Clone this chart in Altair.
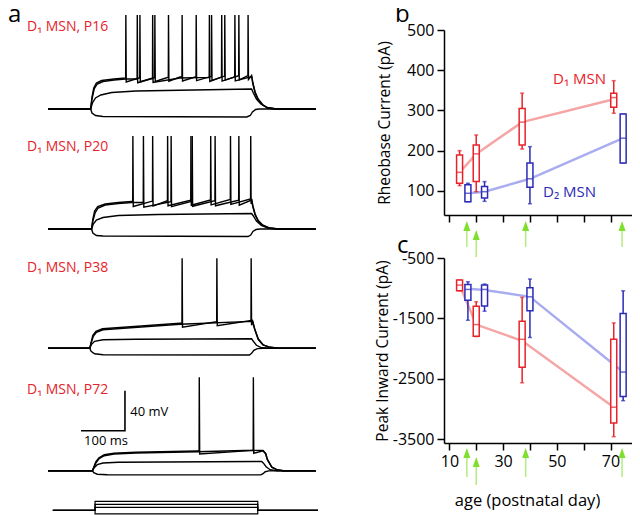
import altair as alt
import numpy as np
import pandas as pd

FONT = "Open Sans"
RED = "#e8222a"
BLUE = "#2b2bb8"
RED_FADE = "#f6a5a5"
BLUE_FADE = "#a9adf0"
GREEN = "#7ee02c"

# ---------------- panel a : traces (time ms, membrane potential mV) ----------------
TRACE_LABELS = ["D₁ MSN, P16", "D₁ MSN, P20", "D₁ MSN, P38", "D₁ MSN, P72"]

P16_HYPER = [(0, -80), (97, -80), (100, -84), (108, -86.5), (125, -87.5), (452, -88), (460, -86.5), (465, -83), (472, -80.5), (480, -80), (609, -80)]
P16_SUB = [(0, -80), (97, -80), (101, -74), (108, -69), (120, -66), (145, -63.5), (200, -62), (463, -60), (467, -64), (474, -70), (484, -75), (498, -78.5), (520, -80), (609, -80)]
P16_SPK_A = [(0, -80), (97, -80), (100, -70), (105, -60), (112, -55), (125, -52.5), (150, -51), (176, -50), (300, -49), (463, -47.5), (466, -55), (471, -64), (478, -71), (488, -76), (500, -79), (520, -80), (609, -80)]
P16_SPK_B = [(0, -80), (97, -80), (100, -68), (104, -59), (110, -54), (122, -51.5), (150, -50), (176, -49), (300, -48), (463, -46.5), (466, -54), (471, -63), (478, -70), (488, -75.5), (500, -79), (520, -80), (609, -80)]
P16_SPIKES_A = [203, 238, 367, 395, 425]
P16_SPIKES_B = [177, 209, 243, 274, 305, 337, 372, 402, 434, 455]

P20_HYPER = [(0, -80), (99, -80), (102, -84), (110, -86.5), (125, -87), (455, -87.5), (461, -86), (466, -82.5), (473, -80.5), (482, -80), (609, -80)]
P20_SUB = [(0, -80), (99, -80), (103, -75), (110, -71), (125, -68.5), (160, -66.5), (250, -65.5), (463, -64.5), (467, -67), (474, -72), (485, -76.5), (500, -79), (520, -80), (609, -80)]
P20_SPK_A = [(0, -80), (99, -80), (102, -72), (107, -64), (114, -59), (130, -56), (160, -54.5), (190, -53.5), (463, -51), (466, -58), (471, -66), (478, -72), (488, -76.5), (503, -79), (525, -80), (609, -80)]
P20_SPK_B = [(0, -80), (99, -80), (102, -70), (106, -62), (113, -57.5), (130, -55), (160, -53.5), (190, -52.5), (463, -50), (466, -57), (471, -65), (478, -71.5), (488, -76), (503, -79), (525, -80), (609, -80)]
P20_SPIKES_A = [217, 280, 328, 380, 434]
P20_SPIKES_B = [193, 238, 272, 325, 370, 415, 461]

P38_HYPER = [(0, -80), (95, -80), (98, -83), (106, -85.5), (125, -86.5), (458, -86.7), (463, -85), (468, -82), (476, -80.3), (490, -80), (609, -80)]
P38_SUB = [(0, -80), (95, -80), (99, -76), (106, -73), (125, -71.5), (200, -71), (463, -70.5), (467, -73), (474, -77), (486, -79.5), (505, -80), (609, -80)]
P38_SPK_A = [(0, -80), (95, -80), (98, -75), (103, -68), (110, -64), (125, -61.5), (156, -60.5), (300, -56), (465, -53), (470, -61), (478, -71), (489, -76.7), (505, -79), (525, -80), (609, -80)]
P38_SPK_B = [(0, -80), (95, -80), (98, -74), (102, -67), (109, -63), (124, -60.5), (156, -59.5), (300, -55), (465, -52), (470, -60.5), (478, -70.5), (489, -76.5), (505, -79), (525, -80), (609, -80)]
P38_SPIKES_A = [462]
P38_SPIKES_B = [305, 384]

P72_HYPER = [(0, -80), (101, -80), (104, -82), (112, -83.5), (135, -84), (484, -84.2), (489, -83), (494, -81), (502, -80.2), (515, -80), (609, -80)]
P72_SUB = [(0, -80), (101, -80), (105, -77), (112, -74), (125, -72.3), (160, -71.5), (486, -70.8), (490, -72.5), (496, -76), (505, -79), (520, -80), (609, -80)]
P72_SPK_A = [(0, -80), (101, -80), (104, -77), (109, -72), (116, -68), (128, -65), (150, -63.3), (200, -62.3), (340, -61), (466, -59.5), (489, -60), (495, -63), (499, -69), (509, -76.5), (520, -79), (535, -80), (609, -80)]
P72_SPK_B = [(0, -80), (101, -80), (104, -76.5), (109, -71), (116, -67), (128, -64), (150, -62.5), (200, -61.5), (340, -60.3), (466, -59.7), (489, -59.8), (495, -63), (499, -69), (509, -76.5), (520, -79), (535, -80), (609, -80)]
P72_SPIKES_A = [467]
P72_SPIKES_B = [344]

SPIKE_PEAKS = [14, 13, 10, 13.4]
AHP_DEPTH = [4, 5, 4, 3]

SCALEBAR_T = [75, 175, 175]
SCALEBAR_V = [-40, -40, 0]
SCALEBAR_TEXT = ["100 ms", "40 mV"]
SCALEBAR_TEXT_T = [82, 187]
SCALEBAR_TEXT_V = [-50.5, -21]

STIM_AMPS = [-120, 100, 200, 300]
STIM_TIMES = [11, 107, 477, 614]

# ---------------- panels b, c : box plots ----------------
D1_DAYS = [13.8, 20.0, 37.1, 71.2]
D2_DAYS = [16.9, 23.1, 40.0, 74.7]

RB_D1_LO = [113, 98, 204, 293]
RB_D1_Q1 = [119, 123, 214, 308]
RB_D1_MED = [146, 192, 271, 332]
RB_D1_Q3 = [189, 214, 305, 343]
RB_D1_HI = [200, 239, 343, 374]
RB_D1_LINE = [146, 192, 271, 328]

RB_D2_LO = [73, 74, 68, 169]
RB_D2_Q1 = [73, 82, 109, 169]
RB_D2_MED = [94, 98, 130, 231]
RB_D2_Q3 = [115, 111, 169, 291]
RB_D2_HI = [119, 123, 210, 291]
RB_D2_LINE = [94, 98, 130, 231]

PI_D1_LO = [-1043, -1800, -2564, -3455]
PI_D1_Q1 = [-1043, -1795, -2305, -3228]
PI_D1_MED = [-948, -1601, -1845, -2968]
PI_D1_Q3 = [-865, -1297, -1546, -1845]
PI_D1_HI = [-865, -1225, -1152, -1574]
PI_D1_LINE = [-948, -1601, -1870, -2968]

PI_D2_LO = [-1530, -1380, -1815, -2860]
PI_D2_Q1 = [-1197, -1292, -1374, -2791]
PI_D2_MED = [-1020, -1020, -1142, -2387]
PI_D2_Q3 = [-937, -948, -992, -1418]
PI_D2_HI = [-893, -931, -848, -1043]
PI_D2_LINE = [-1010, -1030, -1142, -2387]

ARROW_DAYS = [16.5, 38.4, 74.3]
ARROW_DAYS_LOW = [20.0]

LEGEND_TEXT = ["D₁ MSN", "D₂ MSN"]
LEGEND_DAY = [48.6, 44.9]
LEGEND_VAL = [378, 97]

RB_TICKS = [100, 200, 300, 400, 500]
PI_TICKS = [-3500, -2500, -1500, -500]
AGE_TICKS = [10, 20, 30, 40, 50, 60, 70]


# ---------------- helpers ----------------
def build_trace(sweeps, peak, ahp):
    rows = []
    for name, env, spikes in sweeps:
        pts = [tuple(p) for p in env]
        te = [p[0] for p in env]
        ve = [p[1] for p in env]
        for ts in spikes:
            vp = float(np.interp(ts, te, ve))
            pts += [(ts - 0.4, vp), (ts, peak), (ts + 0.9, vp - ahp)]
        pts.sort(key=lambda p: p[0])
        for i, (t, v) in enumerate(pts):
            rows.append({"sweep": name, "i": i, "t": t, "v": v})
    return pd.DataFrame(rows)


T_SCALE = alt.Scale(domain=[-91, 614], nice=False, zero=False, padding=0)
LEFT_W, LEFT_H = 310, 484
X_T = alt.X("t:Q", scale=T_SCALE, axis=None)


def trace_layer(df, ydom, yrange, extra_fn=None):
    Y = alt.Y("v:Q", scale=alt.Scale(domain=ydom, range=yrange, nice=False, zero=False), axis=None)
    lines = alt.Chart(df).mark_line(color="black", strokeWidth=1.4).encode(
        x=X_T, y=Y, detail="sweep:N", order="i:Q")
    if extra_fn is None:
        return lines
    return alt.layer(lines, *extra_fn(Y))


def scalebar_layers(Y):
    sb = pd.DataFrame({"t": SCALEBAR_T, "v": SCALEBAR_V, "i": list(range(len(SCALEBAR_T)))})
    bar = alt.Chart(sb).mark_line(color="black", strokeWidth=1.6).encode(x=X_T, y=Y, order="i:Q")
    st = pd.DataFrame({"t": SCALEBAR_TEXT_T, "v": SCALEBAR_TEXT_V, "s": SCALEBAR_TEXT})
    txt = alt.Chart(st).mark_text(align="left", baseline="middle", fontSize=13, color="black").encode(
        x=X_T, y=Y, text="s:N")
    return [bar, txt]


def label_layer(s, px, py, color=RED, size=14, baseline="middle"):
    return alt.Chart(pd.DataFrame({"s": [s]})).mark_text(
        align="left", baseline=baseline, color=color, fontSize=size).encode(
        x=alt.value(px), y=alt.value(py), text="s:N")


# ---------------- panel a (one chart, one y scale per trace) ----------------
tr1 = trace_layer(build_trace([("h", P16_HYPER, []), ("s", P16_SUB, []),
                               ("a", P16_SPK_A, P16_SPIKES_A), ("b", P16_SPK_B, P16_SPIKES_B)],
                              SPIKE_PEAKS[0], AHP_DEPTH[0]), [-101, -1], [100, 0])
tr2 = trace_layer(build_trace([("h", P20_HYPER, []), ("s", P20_SUB, []),
                               ("a", P20_SPK_A, P20_SPIKES_A), ("b", P20_SPK_B, P20_SPIKES_B)],
                              SPIKE_PEAKS[1], AHP_DEPTH[1]), [-101, 19], [220, 100])
tr3 = trace_layer(build_trace([("h", P38_HYPER, []), ("s", P38_SUB, []),
                               ("a", P38_SPK_A, P38_SPIKES_A), ("b", P38_SPK_B, P38_SPIKES_B)],
                              SPIKE_PEAKS[2], AHP_DEPTH[2]), [-101.7, 18.3], [340, 220])
tr4 = trace_layer(build_trace([("h", P72_HYPER, []), ("s", P72_SUB, []),
                               ("a", P72_SPK_A, P72_SPIKES_A), ("b", P72_SPK_B, P72_SPIKES_B)],
                              SPIKE_PEAKS[3], AHP_DEPTH[3]), [-101.3, 20.7], [462, 340],
                  extra_fn=scalebar_layers)

stim_rows = []
for k, a in enumerate(STIM_AMPS):
    ts = [STIM_TIMES[0], STIM_TIMES[1], STIM_TIMES[1], STIM_TIMES[2], STIM_TIMES[2], STIM_TIMES[3]]
    vs = [0, 0, a, a, 0, 0]
    for i, (t, v) in enumerate(zip(ts, vs)):
        stim_rows.append({"sweep": k, "i": i, "t": t, "v": v})
stim = alt.Chart(pd.DataFrame(stim_rows)).mark_line(color="black", strokeWidth=1.2).encode(
    x=X_T,
    y=alt.Y("v:Q", scale=alt.Scale(domain=[-123, 610], range=[484, 462], nice=False, zero=False), axis=None),
    detail="sweep:N", order="i:Q")

panel_a = alt.layer(
    tr1, tr2, tr3, tr4, stim,
    label_layer(TRACE_LABELS[0], 19, -3),
    label_layer(TRACE_LABELS[1], 19, 117),
    label_layer(TRACE_LABELS[2], 19, 238),
    label_layer(TRACE_LABELS[3], 19, 360),
    label_layer("a", 0, -8, color="black", size=24, baseline="alphabetic"),
).resolve_scale(y="independent").properties(width=LEFT_W, height=LEFT_H)

# ---------------- panels b, c ----------------
W_R, H_R = 188, 185
AGE_SCALE = alt.Scale(domain=[8, 78], nice=False, zero=False, padding=0)
AX_COMMON = dict(domainWidth=1.5, tickWidth=1.5, domainColor="black", tickColor="black",
                 labelColor="black", grid=False, tickSize=7)


def trend(days, vals, color, X, yscale, yaxis):
    df = pd.DataFrame({"day": days, "val": vals})
    return alt.Chart(df).mark_line(color=color, strokeWidth=2.5).encode(
        x=X, y=alt.Y("val:Q", scale=yscale, axis=yaxis))


def box_group(days, lo, q1, med, q3, hi, color, X, yscale, yaxis):
    df = pd.DataFrame({"day": days, "lo": lo, "q1": q1, "med": med, "q3": q3, "hi": hi})
    base = alt.Chart(df)

    def Y(f):
        return alt.Y(f"{f}:Q", scale=yscale, axis=yaxis)

    whisk = base.mark_rule(color=color, strokeWidth=1.5).encode(x=X, y=Y("lo"), y2="hi:Q")
    cap_lo = base.mark_tick(orient="horizontal", size=4, thickness=1.5, color=color).encode(x=X, y=Y("lo"))
    cap_hi = base.mark_tick(orient="horizontal", size=4, thickness=1.5, color=color).encode(x=X, y=Y("hi"))
    box = base.mark_bar(orient="vertical", size=6, fill="white", stroke=color, strokeWidth=1.5).encode(
        x=X, y=Y("q1"), y2="q3:Q")
    md = base.mark_tick(orient="horizontal", size=6, thickness=1.5, color=color).encode(x=X, y=Y("med"))
    return [whisk, cap_lo, cap_hi, box, md]


def arrow_layers(days, top, bottom, X):
    df = pd.DataFrame({"day": days})
    tail = alt.Chart(df).mark_rule(color=GREEN, strokeWidth=1.5, opacity=0.6).encode(
        x=X, y=alt.value(top + 9), y2=alt.value(bottom))
    head = alt.Chart(df).mark_point(shape="M0,-1L0.7,1L-0.7,1Z", filled=True, size=100,
                                    color=GREEN, opacity=1).encode(x=X, y=alt.value(top + 5))
    return [tail, head]


# panel b
xb = alt.X("day:Q", scale=AGE_SCALE, axis=alt.Axis(values=AGE_TICKS, labels=False, title=None, **AX_COMMON))
yb_scale = alt.Scale(domain=[40, 500], nice=False, zero=False, padding=0)
yb_axis = alt.Axis(values=RB_TICKS, labelFontSize=16, labelPadding=3, title="Rheobase Current (pA)",
                   titleFontSize=15.5, titleFontWeight="normal", titleColor="black",
                   titleX=-60, titleY=H_R / 2, titleAlign="center", titleBaseline="middle", **AX_COMMON)
leg_df = pd.DataFrame({"day": LEGEND_DAY, "val": LEGEND_VAL, "s": LEGEND_TEXT, "g": ["D1", "D2"]})
legend_b = alt.Chart(leg_df).mark_text(align="left", baseline="middle", fontSize=15).encode(
    x=xb, y=alt.Y("val:Q", scale=yb_scale, axis=yb_axis), text="s:N",
    color=alt.Color("g:N", scale=alt.Scale(domain=["D1", "D2"], range=[RED, BLUE]), legend=None))

b_layers = [trend(D1_DAYS, RB_D1_LINE, RED_FADE, xb, yb_scale, yb_axis),
            trend(D2_DAYS, RB_D2_LINE, BLUE_FADE, xb, yb_scale, yb_axis)]
b_layers += box_group(D1_DAYS, RB_D1_LO, RB_D1_Q1, RB_D1_MED, RB_D1_Q3, RB_D1_HI, RED, xb, yb_scale, yb_axis)
b_layers += box_group(D2_DAYS, RB_D2_LO, RB_D2_Q1, RB_D2_MED, RB_D2_Q3, RB_D2_HI, BLUE, xb, yb_scale, yb_axis)
b_layers += arrow_layers(ARROW_DAYS, H_R + 6, H_R + 32, xb)
b_layers += arrow_layers(ARROW_DAYS_LOW, H_R + 15, H_R + 42, xb)
b_layers += [legend_b, label_layer("b", -49, -8, color="black", size=24, baseline="alphabetic")]
panel_b = alt.layer(*b_layers).properties(width=W_R, height=H_R)

# panel c
xc = alt.X("day:Q", scale=AGE_SCALE,
           axis=alt.Axis(values=AGE_TICKS, labelExpr="datum.value % 20 == 10 ? datum.label : ''",
                         labelFontSize=16, labelPadding=3, title="age (postnatal day)",
                         titleFontSize=16.5, titleFontWeight="normal", titleColor="black",
                         titleX=83, titleY=57, titleAlign="center", titleBaseline="middle",
                         **AX_COMMON))
yc_scale = alt.Scale(domain=[-3560, -500], nice=False, zero=False, padding=0)
yc_axis = alt.Axis(values=PI_TICKS, labelExpr="'' + datum.value", labelFontSize=16, labelPadding=3,
                   title="Peak Inward Current (pA)",
                   titleFontSize=15.5, titleFontWeight="normal", titleColor="black",
                   titleX=-62, titleY=H_R / 2, titleAlign="center", titleBaseline="middle", **AX_COMMON)
c_layers = [trend(D1_DAYS, PI_D1_LINE, RED_FADE, xc, yc_scale, yc_axis),
            trend(D2_DAYS, PI_D2_LINE, BLUE_FADE, xc, yc_scale, yc_axis)]
c_layers += box_group(D1_DAYS, PI_D1_LO, PI_D1_Q1, PI_D1_MED, PI_D1_Q3, PI_D1_HI, RED, xc, yc_scale, yc_axis)
c_layers += box_group(D2_DAYS, PI_D2_LO, PI_D2_Q1, PI_D2_MED, PI_D2_Q3, PI_D2_HI, BLUE, xc, yc_scale, yc_axis)
c_layers += arrow_layers(ARROW_DAYS, H_R + 5, H_R + 34, xc)
c_layers += arrow_layers(ARROW_DAYS_LOW, H_R + 14, H_R + 42, xc)
c_layers += [label_layer("c", -47, -5, color="black", size=24, baseline="alphabetic")]
panel_c = alt.layer(*c_layers).properties(width=W_R, height=H_R)

right = alt.vconcat(panel_b, panel_c, spacing=43, bounds="flush")
chart = alt.hconcat(panel_a, right, spacing=126, bounds="flush").properties(
    autosize=alt.AutoSizeParams(type="none"),
    padding={"left": 0, "top": 22, "right": 624, "bottom": 485},
).configure_view(stroke=None).configure_axis(labelFont=FONT, titleFont=FONT).configure_text(font=FONT)

chart.save("out.html", embed_options={"renderer": "svg", "actions": False})
